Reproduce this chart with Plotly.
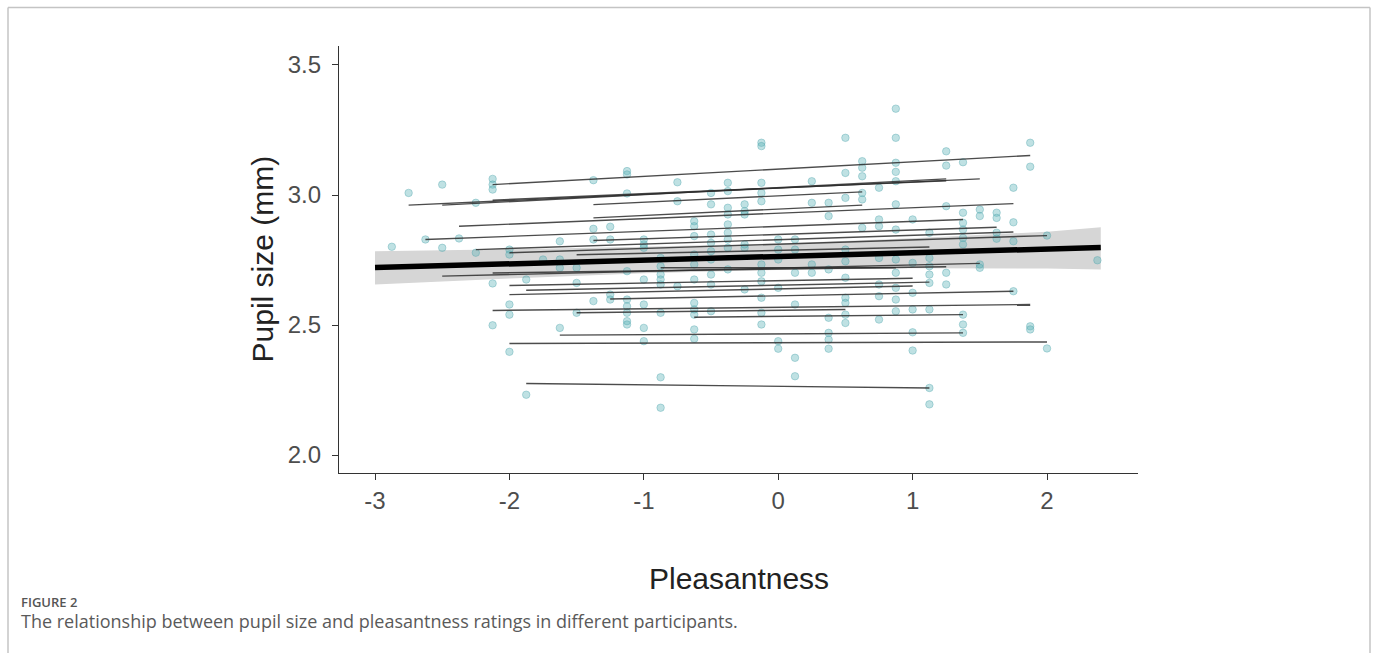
import plotly.graph_objects as go

# ---------------- data ----------------
x_tick_vals = [-3, -2, -1, 0, 1, 2]
x_tick_text = ["-3", "-2", "-1", "0", "1", "2"]
y_tick_vals = [2.0, 2.5, 3.0, 3.5]
y_tick_text = ["2.0", "2.5", "3.0", "3.5"]

# observed points, grouped by pleasantness value
col_x = [-2.875, -2.75, -2.625, -2.5, -2.375, -2.25, -2.125, -2.0, -1.875, -1.75,
         -1.625, -1.5, -1.375, -1.25, -1.125, -1.0, -0.875, -0.75, -0.625, -0.5,
         -0.375, -0.25, -0.125, 0.0, 0.125, 0.25, 0.375, 0.5, 0.625, 0.75,
         0.875, 1.0, 1.125, 1.25, 1.375, 1.5, 1.625, 1.75, 1.875, 2.0, 2.375]
col_y = [
    [2.801], [3.008], [2.829], [3.040, 2.797], [2.833], [2.970, 2.778],
    [3.062, 3.040, 3.021, 2.660, 2.499],
    [2.790, 2.771, 2.579, 2.540, 2.397],
    [2.675, 2.232], [2.752],
    [2.822, 2.752, 2.720, 2.489],
    [2.720, 2.662, 2.547],
    [3.057, 2.870, 2.829, 2.592],
    [2.878, 2.829, 2.617, 2.598],
    [3.092, 3.079, 3.006, 2.707, 2.598, 2.572, 2.547, 2.515, 2.502],
    [2.829, 2.810, 2.797, 2.675, 2.579, 2.489, 2.438],
    [2.758, 2.726, 2.694, 2.675, 2.656, 2.547, 2.299, 2.182],
    [3.049, 2.976, 2.649],
    [2.899, 2.880, 2.842, 2.771, 2.733, 2.675, 2.585, 2.560, 2.540, 2.483, 2.447],
    [3.008, 2.964, 2.848, 2.816, 2.784, 2.752, 2.694, 2.656, 2.553],
    [3.047, 3.015, 2.951, 2.925, 2.887, 2.855, 2.829, 2.797, 2.714],
    [2.964, 2.938, 2.925, 2.810, 2.797, 2.637],
    [3.201, 3.188, 3.047, 3.008, 2.976, 2.733, 2.701, 2.668, 2.605, 2.547, 2.502],
    [2.829, 2.790, 2.752, 2.643, 2.438, 2.409],
    [2.829, 2.790, 2.701, 2.579, 2.374, 2.303],
    [3.053, 2.970, 2.733, 2.701],
    [2.970, 2.919, 2.714, 2.528, 2.470, 2.444, 2.409],
    [3.220, 3.085, 2.989, 2.790, 2.745, 2.682, 2.605, 2.585, 2.540, 2.508],
    [3.130, 3.105, 3.072, 3.008, 2.983, 2.874],
    [3.028, 2.906, 2.880, 2.758, 2.656, 2.611, 2.521],
    [3.332, 3.220, 3.124, 3.089, 3.053, 2.964, 2.867, 2.752, 2.701, 2.643, 2.598, 2.553],
    [2.906, 2.739, 2.624, 2.560, 2.472, 2.402],
    [2.855, 2.758, 2.726, 2.694, 2.662, 2.560, 2.258, 2.195],
    [3.168, 3.113, 2.957, 2.701, 2.656],
    [3.126, 2.932, 2.893, 2.867, 2.835, 2.810, 2.540, 2.502, 2.470],
    [2.944, 2.919, 2.733, 2.720],
    [2.932, 2.912, 2.855, 2.832],
    [3.028, 2.895, 2.822, 2.630],
    [3.201, 3.109, 2.495, 2.483],
    [2.844, 2.410],
    [2.749],
]

# per-participant fitted lines (start / end)
line_x0 = [-2.125, -2.75, -2.5, -2.125, -1.375, -1.375, -2.375, -2.625, -1.375, -2.25,
           -2.0, -1.5, -2.5, -2.125, -0.875, -2.0, -1.875, -2.0, -1.25, -2.125,
           -1.5, -0.625, -1.625, -2.0, -1.875]
line_x1 = [1.875, 1.5, 1.25, 1.25, 0.625, 0.625, 1.75, 1.375, 1.625, 1.75,
           2.0, 1.125, 1.5, 1.25, 0.875, 1.0, 1.125, 1.0, 1.75, 1.875,
           0.5, 1.375, 1.375, 2.0, 1.125]
line_y0 = [3.040, 2.961, 2.961, 2.980, 2.963, 2.912, 2.880, 2.829, 2.825, 2.790,
           2.778, 2.770, 2.688, 2.700, 2.720, 2.652, 2.634, 2.617, 2.600, 2.556,
           2.547, 2.530, 2.461, 2.429, 2.275]
line_y1 = [3.152, 3.062, 3.062, 3.055, 3.012, 2.961, 2.967, 2.906, 2.876, 2.858,
           2.844, 2.800, 2.737, 2.724, 2.720, 2.680, 2.665, 2.650, 2.630, 2.579,
           2.560, 2.540, 2.470, 2.435, 2.258]

# overall fit and confidence band
fit_x = [-3.0, 2.4]
fit_y = [2.721, 2.798]
band_x = [-3.0, -2.0, -1.0, 0.0, 1.0, 2.0, 2.4]
band_lower = [2.656, 2.679, 2.699, 2.712, 2.718, 2.717, 2.714]
band_upper = [2.784, 2.791, 2.801, 2.814, 2.834, 2.859, 2.876]

x_title = "Pleasantness"
y_title = "Pupil size (mm)"
fig_label = "FIGURE 2"
caption = "The relationship between pupil size and pleasantness ratings in different participants."

# ---------------- figure ----------------
W, H = 1375, 653
L, R, T, B = 339, 237, 46, 180
PW, PH = W - L - R, H - T - B


def paper_x(px):
    return (px - L) / PW


def paper_y(py):
    return (H - B - py) / PH


pts_x, pts_y = [], []
for cx, ys in zip(col_x, col_y):
    for v in ys:
        pts_x.append(cx)
        pts_y.append(v)

lx, ly = [], []
for a, b, c, d in zip(line_x0, line_x1, line_y0, line_y1):
    lx += [a, b, None]
    ly += [c, d, None]

fig = go.Figure()
fig.add_trace(go.Scatter(
    x=band_x + band_x[::-1], y=band_upper + band_lower[::-1],
    fill="toself", fillcolor="#d6d6d6", line=dict(width=0),
    mode="lines", hoverinfo="skip", showlegend=False))
fig.add_trace(go.Scatter(
    x=pts_x, y=pts_y, mode="markers",
    marker=dict(size=7.5, color="rgba(95,180,186,0.4)",
                line=dict(width=0.8, color="rgba(70,160,168,0.45)")),
    showlegend=False))
fig.add_trace(go.Scatter(
    x=lx, y=ly, mode="lines",
    line=dict(color="rgba(45,45,45,0.85)", width=1.4),
    showlegend=False, connectgaps=False))
fig.add_trace(go.Scatter(
    x=fit_x, y=fit_y, mode="lines",
    line=dict(color="black", width=5.5), showlegend=False))

axis_common = dict(
    showline=True, linecolor="#333333", linewidth=1.4,
    ticks="outside", ticklen=6, tickwidth=1.4, tickcolor="#333333",
    showgrid=False, zeroline=False,
    tickfont=dict(family="Liberation Sans, Arial, sans-serif", size=24, color="#4d4d4d"),
)

fig.update_layout(
    width=W, height=H,
    margin=dict(l=L, r=R, t=T, b=B, pad=0),
    paper_bgcolor="white", plot_bgcolor="white",
    xaxis=dict(range=[-3.268, 2.677], tickvals=x_tick_vals, ticktext=x_tick_text,
               ticklabelstandoff=0, **axis_common),
    yaxis=dict(range=[1.931, 3.573], tickvals=y_tick_vals, ticktext=y_tick_text,
               ticklabelstandoff=6, **axis_common),
    showlegend=False,
)

title_font = dict(family="Liberation Sans, Arial, sans-serif", size=30, color="#222222")
fig.add_annotation(text=x_title, xref="paper", yref="paper",
                   x=0.5, y=paper_y(578), xanchor="center", yanchor="middle",
                   showarrow=False, font=title_font)
fig.add_annotation(text=y_title, xref="paper", yref="paper",
                   x=paper_x(262), y=0.5, xanchor="center", yanchor="middle",
                   textangle=-90, showarrow=False, font=title_font)
fig.add_annotation(text=fig_label, xref="paper", yref="paper",
                   x=paper_x(19), y=paper_y(602), xanchor="left", yanchor="middle",
                   showarrow=False,
                   font=dict(family="Open Sans, sans-serif", size=13, color="#555555", weight=600))
fig.add_annotation(text=caption, xref="paper", yref="paper",
                   x=paper_x(19), y=paper_y(621), xanchor="left", yanchor="middle",
                   showarrow=False,
                   font=dict(family="Open Sans, sans-serif", size=18, color="#5a5a5a"))

# outer frame (open at bottom)
frame = dict(type="line", xref="paper", yref="paper",
             line=dict(color="#c4c4c4", width=1.5))
fig.add_shape(x0=paper_x(8), x1=paper_x(1370), y0=paper_y(7.5), y1=paper_y(7.5), **frame)
fig.add_shape(x0=paper_x(8), x1=paper_x(8), y0=paper_y(7.5), y1=paper_y(653), **frame)
fig.add_shape(x0=paper_x(1370), x1=paper_x(1370), y0=paper_y(7.5), y1=paper_y(653), **frame)

fig.write_html("out.html")
